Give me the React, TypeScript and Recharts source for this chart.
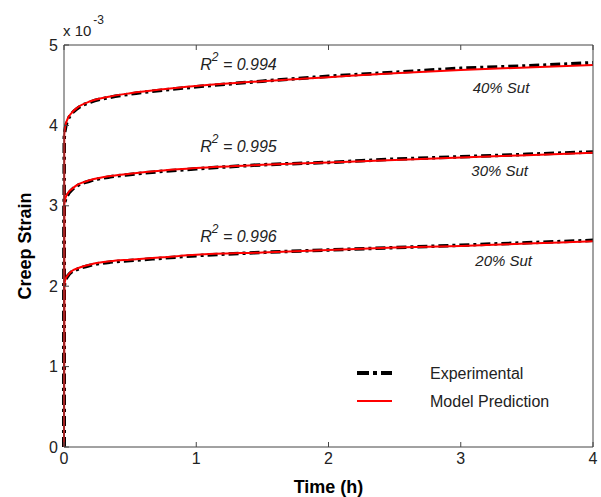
import React from "react";
import { LineChart, Line, XAxis, YAxis, ReferenceDot } from "recharts";

// time in hours
const timeH = [0, 0.002, 0.01, 0.03, 0.06, 0.1, 0.2, 0.35, 0.5, 0.75, 1, 1.5, 2, 2.5, 3, 3.5, 4];

// creep strain (x 10^-3)
const exp40 = [0, 3.85, 3.96, 4.07, 4.15, 4.21, 4.29, 4.35, 4.39, 4.44, 4.48, 4.55, 4.61, 4.66, 4.71, 4.74, 4.78];
const model40 = [0, 3.88, 3.99, 4.09, 4.16, 4.22, 4.3, 4.36, 4.4, 4.45, 4.49, 4.55, 4.6, 4.65, 4.69, 4.72, 4.75];
const exp30 = [0, 3.0, 3.07, 3.14, 3.2, 3.25, 3.31, 3.36, 3.39, 3.43, 3.46, 3.51, 3.54, 3.58, 3.61, 3.64, 3.67];
const model30 = [0, 3.02, 3.09, 3.16, 3.21, 3.26, 3.32, 3.37, 3.4, 3.44, 3.47, 3.51, 3.54, 3.57, 3.6, 3.63, 3.66];
const exp20 = [0, 2.0, 2.06, 2.13, 2.18, 2.21, 2.26, 2.3, 2.32, 2.35, 2.38, 2.42, 2.45, 2.48, 2.51, 2.54, 2.57];
const model20 = [0, 2.02, 2.08, 2.14, 2.19, 2.22, 2.27, 2.31, 2.33, 2.36, 2.39, 2.42, 2.45, 2.48, 2.5, 2.53, 2.56];

const xTicks = [0, 1, 2, 3, 4];
const yTicks = [0, 1, 2, 3, 4, 5];

// annotation anchors (data coords)
const fitLabels = [
  { t: 1.03, v: 4.69, r2: "0.994" },
  { t: 1.03, v: 3.67, r2: "0.995" },
  { t: 1.03, v: 2.55, r2: "0.996" },
];
const loadLabels = [
  { t: 3.09, v: 4.4, text: "40% Sut" },
  { t: 3.08, v: 3.37, text: "30% Sut" },
  { t: 3.11, v: 2.25, text: "20% Sut" },
];

const rows = timeH.map((t, i) => ({
  t,
  e40: exp40[i],
  m40: model40[i],
  e30: exp30[i],
  m30: model30[i],
  e20: exp20[i],
  m20: model20[i],
}));

const FONT = "'Liberation Sans', Arial, Helvetica, sans-serif";
const AXIS = "#444";
const TXT = "#222";
const RED = "#ff0000";
const DASH = "10 4 3 4";

const tickStyle = { fontSize: 16, fill: TXT, fontFamily: FONT };
const NoTick = () => null;

// legend drawn as an overlay so it does not steal plot height
const LegendBox = () => (
  <svg width={230} height={60} style={{ position: "absolute", left: 355, top: 360 }}>
    <line x1={2} x2={37} y1={13} y2={13} stroke="#000" strokeWidth={4} strokeDasharray="12 4 4 4" />
    <text x={75} y={19} fontSize={16} fill={TXT} fontFamily={FONT}>Experimental</text>
    <line x1={2} x2={37} y1={41} y2={41} stroke={RED} strokeWidth={2} />
    <text x={75} y={47} fontSize={16} fill={TXT} fontFamily={FONT}>Model Prediction</text>
  </svg>
);

export default function App() {
  const series = [
    ["e40", "m40"],
    ["e30", "m30"],
    ["e20", "m20"],
  ];
  return (
    <div style={{ position: "absolute", left: 0, top: 0, width: 601, height: 497, fontFamily: FONT, background: "#fff" }}>
      <LineChart width={601} height={497} data={rows} margin={{ top: 44, right: 7, bottom: 0, left: 0 }}>
        <XAxis
          xAxisId="x"
          dataKey="t"
          type="number"
          domain={[0, 4]}
          ticks={xTicks}
          height={50}
          tickSize={-5}
          tickMargin={11}
          stroke={AXIS}
          tick={tickStyle}
          label={{
            content: ({ viewBox }: any) => (
              <text
                x={viewBox.x + viewBox.width / 2}
                y={viewBox.y + 46}
                textAnchor="middle"
                fontSize={18}
                fontWeight="bold"
                fill="#000"
                fontFamily={FONT}
              >
                Time (h)
              </text>
            ),
          }}
        />
        <XAxis
          xAxisId="xt"
          dataKey="t"
          type="number"
          orientation="top"
          domain={[0, 4]}
          ticks={xTicks}
          height={1}
          tickSize={-5}
          stroke={AXIS}
          tick={NoTick}
        />
        <YAxis
          yAxisId="y"
          type="number"
          domain={[0, 5]}
          ticks={yTicks}
          width={64}
          tickSize={-5}
          tickMargin={11}
          stroke={AXIS}
          tick={tickStyle}
          label={{
            content: ({ viewBox }: any) => (
              <g>
                <text
                  transform={`translate(${viewBox.x + 31}, ${viewBox.y + viewBox.height / 2}) rotate(-90)`}
                  textAnchor="middle"
                  fontSize={18}
                  fontWeight="bold"
                  fill="#000"
                  fontFamily={FONT}
                >
                  Creep Strain
                </text>
                <text x={viewBox.x + viewBox.width - 1} y={viewBox.y - 9} fontSize={15} fill={TXT} fontFamily={FONT}>
                  x 10
                  <tspan dx={2} dy={-12} fontSize={12}>-3</tspan>
                </text>
              </g>
            ),
          }}
        />
        <YAxis
          yAxisId="yr"
          type="number"
          orientation="right"
          domain={[0, 5]}
          ticks={yTicks}
          width={1}
          tickSize={-5}
          stroke={AXIS}
          tick={NoTick}
        />
        {series.map(([e]) => (
          <Line
            key={e}
            xAxisId="x"
            yAxisId="y"
            dataKey={e}
            type="monotone"
            stroke="#000"
            strokeWidth={3.5}
            strokeDasharray={DASH}
            dot={false}
            isAnimationActive={false}
          />
        ))}
        {series.map(([, m]) => (
          <Line
            key={m}
            xAxisId="x"
            yAxisId="y"
            dataKey={m}
            type="monotone"
            stroke={RED}
            strokeWidth={2}
            dot={false}
            isAnimationActive={false}
          />
        ))}
        {fitLabels.map((f) => (
          <ReferenceDot
            key={f.r2}
            xAxisId="x"
            yAxisId="y"
            x={f.t}
            y={f.v}
            r={0}
            shape={(p: any) => (
              <text x={p.cx} y={p.cy} fontSize={16} fontStyle="italic" fill={TXT} fontFamily={FONT}>
                R
                <tspan dy={-9} fontSize={12}>2</tspan>
                <tspan dy={9}>{` = ${f.r2}`}</tspan>
              </text>
            )}
          />
        ))}
        {loadLabels.map((l) => (
          <ReferenceDot
            key={l.text}
            xAxisId="x"
            yAxisId="y"
            x={l.t}
            y={l.v}
            r={0}
            shape={(p: any) => (
              <text x={p.cx} y={p.cy} fontSize={15} fontStyle="italic" fill={TXT} fontFamily={FONT}>
                {l.text}
              </text>
            )}
          />
        ))}
      </LineChart>
      <LegendBox />
    </div>
  );
}
